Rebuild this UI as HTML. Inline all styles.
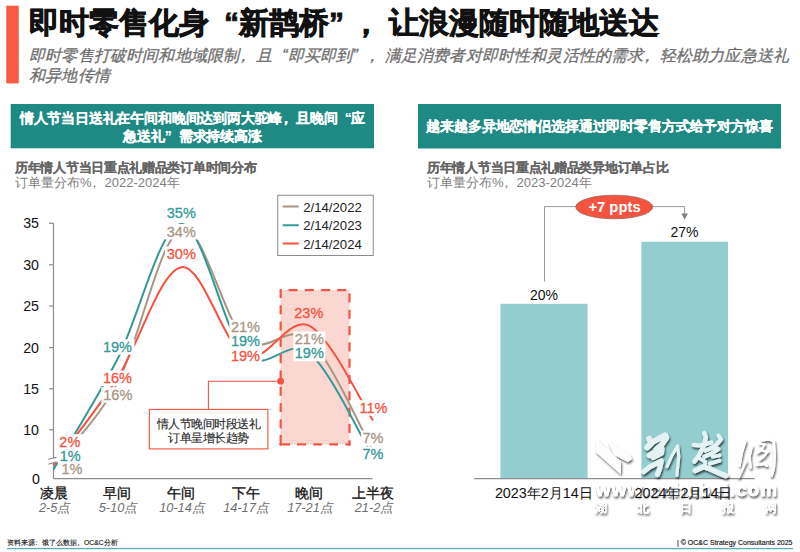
<!DOCTYPE html>
<html><head><meta charset="utf-8">
<style>
html,body{margin:0;padding:0;background:#fff;}
body{width:800px;height:552px;position:relative;overflow:hidden;font-family:"Liberation Sans",sans-serif;}
.t{position:absolute;white-space:nowrap;}
svg{position:absolute;left:0;top:0;}
.lq{display:inline-block;width:1em;text-align:right;}
.rq{display:inline-block;width:1em;text-align:left;}
.cm{position:relative;left:-0.27em;}
</style></head><body>
<svg width="800" height="552" viewBox="0 0 800 552">
  <!-- title accent bar -->
  <rect x="6.25" y="5.7" width="12.5" height="77.7" fill="#F95A44"/>
  <!-- header boxes -->
  <rect x="10.7" y="104" width="363.3" height="44.3" fill="#1F8A84"/>
  <rect x="418" y="104" width="363" height="44.5" fill="#1F8A84"/>

  <!-- left chart: dashed highlight box -->
  <rect x="280.6" y="290.1" width="68.9" height="154.3" fill="#FBD7D1"/>
  <g id="dash" fill="#F4533F"><rect x="288.60" y="289.00" width="9.00" height="2.20"/><rect x="304.90" y="289.00" width="9.00" height="2.20"/><rect x="321.20" y="289.00" width="9.00" height="2.20"/><rect x="337.20" y="289.00" width="9.00" height="2.20"/><rect x="348.40" y="293.50" width="2.20" height="9.00"/><rect x="348.40" y="309.80" width="2.20" height="9.00"/><rect x="348.40" y="326.10" width="2.20" height="9.00"/><rect x="348.40" y="342.40" width="2.20" height="9.00"/><rect x="348.40" y="358.70" width="2.20" height="9.00"/><rect x="348.40" y="375.00" width="2.20" height="9.00"/><rect x="348.40" y="391.30" width="2.20" height="9.00"/><rect x="348.40" y="407.60" width="2.20" height="9.00"/><rect x="348.40" y="423.90" width="2.20" height="9.00"/><rect x="348.40" y="440.20" width="2.20" height="5.30"/><rect x="345.40" y="443.30" width="5.20" height="2.20"/><rect x="329.30" y="443.30" width="8.70" height="2.20"/><rect x="313.30" y="443.30" width="8.45" height="2.20"/><rect x="297.00" y="443.30" width="9.00" height="2.20"/><rect x="279.55" y="443.30" width="10.45" height="2.20"/><rect x="279.55" y="289.00" width="2.20" height="9.00"/><rect x="279.55" y="305.30" width="2.20" height="9.00"/><rect x="279.55" y="321.60" width="2.20" height="9.00"/><rect x="279.55" y="337.90" width="2.20" height="9.00"/><rect x="279.55" y="354.20" width="2.20" height="9.00"/><rect x="279.55" y="370.50" width="2.20" height="9.00"/><rect x="279.55" y="386.80" width="2.20" height="9.00"/><rect x="279.55" y="403.10" width="2.20" height="9.00"/><rect x="279.55" y="419.40" width="2.20" height="9.00"/><rect x="279.55" y="434.90" width="2.20" height="10.60"/></g>

  <!-- axes -->
  <g stroke="#8C8C8C" stroke-width="1.2" fill="none">
    <line x1="53.5" y1="223.3" x2="53.5" y2="479"/>
    <line x1="53.5" y1="478.6" x2="372.5" y2="478.6"/>
    <line x1="49" y1="223.3" x2="53.5" y2="223.3"/>
    <line x1="49" y1="264.8" x2="53.5" y2="264.8"/>
    <line x1="49" y1="306.1" x2="53.5" y2="306.1"/>
    <line x1="49" y1="347.6" x2="53.5" y2="347.6"/>
    <line x1="49" y1="388.8" x2="53.5" y2="388.8"/>
    <line x1="49" y1="429.8" x2="53.5" y2="429.8"/>
  </g>

  <!-- curves -->
  <g fill="none" stroke-width="2" stroke-linecap="butt">
    <path stroke="#A99583" d="M53.5 466.5 C64.2 452.6 96.1 422.7 117.4 383.1 C138.7 343.6 160.0 236.4 181.3 229.2 C202.6 221.9 223.9 321.2 245.2 339.6 C266.5 358.0 287.8 321.0 309.1 339.5 C330.4 358.0 362.4 432.2 373.0 450.7"/>
    <path stroke="#359898" d="M53.5 469.5 C64.2 451.1 96.1 400.1 117.4 359.2 C138.7 318.3 160.0 224.9 181.3 224.1 C202.6 223.3 223.9 333.0 245.2 354.4 C266.5 375.8 287.8 335.5 309.1 352.7 C330.4 369.9 362.4 439.9 373.0 457.4"/>
    <path stroke="#F4533F" d="M53.5 465.2 C64.2 450.7 96.1 411.1 117.4 378.1 C138.7 345.1 160.0 270.9 181.3 267.2 C202.6 263.5 223.9 346.4 245.2 356.1 C266.5 365.8 287.8 314.9 309.1 325.6 C330.4 336.3 362.4 404.7 373.0 420.5"/>
  </g>

  <!-- axis break -->
  <g>
    <polygon points="47,459.5 58,457 58,462 47,464.5" fill="#fff"/>
    <line x1="48.3" y1="459.2" x2="56.6" y2="457.4" stroke="#8C8C8C" stroke-width="1.1"/>
    <line x1="48.3" y1="464.3" x2="56.6" y2="461.7" stroke="#8C8C8C" stroke-width="1.1"/>
  </g>

  <!-- label backgrounds -->
  <g fill="#fff">
    <rect x="57.3" y="434.1" width="25.2" height="15.5"/>
    <rect x="57.9" y="448.3" width="24.6" height="15.5"/>
    <rect x="60.1" y="461.3" width="24.0" height="15.5"/>
    <rect x="101.5" y="339.2" width="33.0" height="15.5"/>
    <rect x="101.1" y="370.5" width="33.4" height="15.5"/>
    <rect x="101.3" y="387.2" width="33.2" height="15.5"/>
    <rect x="165.0" y="204.9" width="32.9" height="15.5"/>
    <rect x="165.0" y="224.0" width="32.9" height="15.5"/>
    <rect x="165.0" y="246.4" width="32.9" height="15.5"/>
    <rect x="229.3" y="319.7" width="32.5" height="15.5"/>
    <rect x="229.3" y="333.2" width="32.5" height="15.5"/>
    <rect x="229.3" y="348.4" width="32.5" height="15.5"/>
    <rect x="293.3" y="331.5" width="32.1" height="15.5"/>
    <rect x="293.3" y="345.8" width="32.1" height="15.5"/>
    <rect x="357.4" y="400.2" width="32.8" height="15.5"/>
    <rect x="360.9" y="430.5" width="24.3" height="15.5"/>
    <rect x="360.9" y="446.5" width="24.3" height="15.5"/>
  </g>

  <!-- callout -->
  <g stroke="#F4533F" fill="none" stroke-width="1.1">
    <polyline points="208.4,409.4 208.4,381.2 280.6,381.2"/>
    <rect x="149.4" y="409.4" width="118.5" height="39.5" fill="#fff"/>
  </g>
  <circle cx="280.6" cy="381.2" r="3.4" fill="#F4533F"/>

  <!-- legend -->
  <rect x="277.75" y="195.25" width="95.5" height="60.25" fill="#fff" stroke="#8C8C8C" stroke-width="1"/>
  <g stroke-width="2">
    <line x1="282.7" y1="206.5" x2="298.75" y2="206.5" stroke="#A99583"/>
    <line x1="282.7" y1="225.25" x2="298.75" y2="225.25" stroke="#359898"/>
    <line x1="282.7" y1="243.5" x2="298.75" y2="243.5" stroke="#F4533F"/>
  </g>

  <!-- right chart -->
  <rect x="500.4" y="303.8" width="87.2" height="174.8" fill="#93CDD0"/>
  <rect x="641.4" y="241.7" width="86.6" height="236.7" fill="#93CDD0"/>
  <line x1="474.25" y1="478.6" x2="754.7" y2="478.6" stroke="#8C8C8C" stroke-width="1.2"/>
  <g stroke="#9A9A9A" stroke-width="1" fill="none">
    <polyline points="544.5,281.5 544.5,206.6 576,206.6"/>
    <polyline points="652.75,206.6 684.6,206.6 684.6,214"/>
  </g>
  <polygon points="681.4,213.6 687.9,213.6 684.6,219.8" fill="#7F7F7F"/>
  <ellipse cx="614.25" cy="207" rx="38.5" ry="11.8" fill="#F4533F" stroke="#9A6A60" stroke-width="0.8"/>

  <!-- bottom line -->
  <line x1="7" y1="548.6" x2="793" y2="548.6" stroke="#5AB0B4" stroke-width="1.3"/>
</svg>

<!-- texts -->
<div class="t" id="title" style="left:29px;top:2.5px;font-size:30px;font-weight:bold;color:#111;-webkit-text-stroke:0.8px #111;">即时零售化身<span class="lq">“</span>新鹊桥<span class="rq">”</span><span class="cm">，</span>让浪漫随时随地送达</div>
<div class="t" id="sub" style="left:29px;top:45.5px;font-size:16px;letter-spacing:0.18px;line-height:20px;font-style:italic;color:#6E6E6E;-webkit-text-stroke:0.3px #6E6E6E;white-space:normal;width:780px;">即时零售打破时间和地域限制<span class="cm">，</span>且<span class="lq">“</span>即买即到<span class="rq">”</span><span class="cm">，</span>满足消费者对即时性和灵活性的需求<span class="cm">，</span>轻松助力应急送礼<br>和异地传情</div>

<div class="t" id="hb1" style="left:10.5px;top:108.5px;width:364px;text-align:center;font-size:13.9px;letter-spacing:-0.18px;line-height:18.4px;font-weight:bold;color:#fff;-webkit-text-stroke:0.2px #fff;">情人节当日送礼在午间和晚间达到两大驼峰<span class="cm">，</span>且晚间<span class="lq">“</span>应<br>急送礼<span class="rq">”</span>需求持续高涨</div>
<div class="t" id="hb2" style="left:418px;top:116.8px;width:363px;text-align:center;font-size:13.9px;letter-spacing:-0.14px;line-height:18px;font-weight:bold;color:#fff;-webkit-text-stroke:0.2px #fff;">越来越多异地恋情侣选择通过即时零售方式给予对方惊喜</div>

<div class="t" id="ct1" style="left:15px;top:160px;font-size:13px;letter-spacing:-0.3px;line-height:16px;font-weight:bold;color:#646464;-webkit-text-stroke:0.1px #646464;">历年情人节当日重点礼赠品类订单时间分布</div>
<div class="t" id="cs1" style="left:15px;top:175px;font-size:13px;line-height:16px;color:#7F7F7F;">订单量分布%<span class="cm">，</span>2022-2024年</div>
<div class="t" id="ct2" style="left:427px;top:160px;font-size:13px;letter-spacing:-0.3px;line-height:16px;font-weight:bold;color:#646464;-webkit-text-stroke:0.1px #646464;">历年情人节当日重点礼赠品类异地订单占比</div>
<div class="t" id="cs2" style="left:427px;top:175px;font-size:13px;line-height:16px;color:#7F7F7F;">订单量分布%<span class="cm">，</span>2023-2024年</div>


<svg width="800" height="552" viewBox="0 0 800 552" style="font-family:'Liberation Sans',sans-serif">
  <defs>
    <filter id="ds" x="-20%" y="-20%" width="140%" height="140%">
      <feGaussianBlur in="SourceAlpha" stdDeviation="0.8" result="bl"/>
      <feOffset in="bl" dx="1.2" dy="1.5" result="off"/>
      <feComposite in="off" in2="SourceAlpha" operator="out" result="sh"/>
      <feComponentTransfer in="sh" result="s"><feFuncA type="linear" slope="0.7"/></feComponentTransfer>
      <feComponentTransfer in="SourceGraphic" result="g"><feFuncA type="linear" slope="0.75"/></feComponentTransfer>
      <feMerge><feMergeNode in="s"/><feMergeNode in="g"/></feMerge>
    </filter>
  </defs>
  <g filter="url(#ds)" fill="#FFFFFF">
    <polygon points="596,438.6 621,461.8 621,474.4 596,452.2" fill-opacity="0.9"/>
    <polygon points="608,441 630,455 632,459 628,462 614,455" fill-opacity="0.9"/>
  </g>
  <g filter="url(#ds)" fill="#FFFFFF">
    <g fill="none" stroke="#FFFFFF" stroke-linecap="round" stroke-linejoin="round">
    <polyline points="649.2,438.7 651.2,443.3 647.2,447.3" stroke-width="6.0"/>
    <polyline points="652.2,442.2 659.4,438.2 665.4,435.1 666.5,437.7 661.4,445.3 656.3,449.4" stroke-width="5.6"/>
    <polyline points="649.2,455.4 656.3,450.9 661.9,448.5 661.4,453.2 653.3,457.5" stroke-width="5.3"/>
    <polyline points="643.6,471.7 650.2,466.6 661.4,461.0 659.6,468.6 657.5,474.5" stroke-width="5.1"/>
    <polyline points="667.0,466.6 671.5,456.5 677.6,445.8 678.8,456.5 676.8,475.5" stroke-width="3.1"/>
    <polyline points="704.3,433.1 705.8,437.2 704.8,442.2 702.2,449.4 698.2,456.5 694.3,461.5" stroke-width="4.5"/>
    <polyline points="693.6,444.8 699.2,445.5 706.3,444.1 711.4,442.4" stroke-width="4.2"/>
    <polyline points="718.5,435.6 721.0,439.4 716.5,444.5 711.4,447.8" stroke-width="4.2"/>
    <polyline points="705.3,450.6 712.4,447.8 718.5,449.1 711.6,453.6 704.5,456.7" stroke-width="4.2"/>
    <polyline points="712.6,456.7 719.5,455.4" stroke-width="3.6"/>
    <polyline points="709.6,463.8 719.5,460.7" stroke-width="3.6"/>
    <polyline points="695.1,470.7 703.3,466.8 709.6,468.8 718.5,472.7 725.8,475.7" stroke-width="5.3"/>
    <polyline points="700.2,458.7 705.3,461.7 704.5,466.6" stroke-width="3.6"/>
    <polyline points="745.4,441.2 742.4,450.4 740.4,459.5 739.7,465.6" stroke-width="2.3"/>
    <polyline points="745.7,461.7 742.2,469.9 738.6,477.6" stroke-width="2.1"/>
    <polyline points="751.8,446.3 749.5,456.5 750.5,467.6" stroke-width="2.3"/>
    <polyline points="760.5,440.4 768.6,439.2 773.7,441.4 774.7,456.5 773.7,468.6 771.6,475.7" stroke-width="2.5"/>
    <polyline points="759.6,443.5 764.5,444.5 761.7,449.6 757.6,452.6" stroke-width="2.1"/>
    <polyline points="760.7,450.6 767.8,451.6 763.7,456.7 759.6,459.7" stroke-width="2.1"/>
    <polyline points="756.6,464.8 764.5,463.8 766.8,465.8" stroke-width="2.3"/>
  </g>
    <text x="596" y="496" font-size="18.5" font-weight="bold" textLength="181" lengthAdjust="spacing" stroke="#fff" stroke-width="0.5">www.cnhubei.com</text>
    <g font-size="11.5" font-weight="bold">
      <text x="595" y="512">湖</text><text x="637" y="512">北</text><text x="680" y="512">日</text><text x="722" y="512">报</text><text x="765" y="512">网</text>
    </g>
  </g>
</svg>
<svg width="800" height="552" viewBox="0 0 800 552" style="font-family:'Liberation Sans',sans-serif">
  <!-- y axis labels -->
  <g font-size="14.2" fill="#111" text-anchor="end">
    <text x="39" y="228.4">35</text>
    <text x="39" y="269.9">30</text>
    <text x="39" y="311.2">25</text>
    <text x="39" y="352.7">20</text>
    <text x="39" y="393.9">15</text>
    <text x="39" y="434.9">10</text>
    <text x="40" y="484">0</text>
  </g>
  <!-- data labels -->
  <g font-size="14.5" text-anchor="middle" style="paint-order:stroke" stroke-width="0.3">
    <text x="69.85" y="446.6" fill="#F4533F" stroke="#F4533F">2%</text>
    <text x="70.15" y="460.8" fill="#359898" stroke="#359898">1%</text>
    <text x="72" y="473.8" fill="#A99583" stroke="#A99583">1%</text>
    <text x="117.5" y="351.7" fill="#359898" stroke="#359898">19%</text>
    <text x="117.5" y="382.5" fill="#F4533F" stroke="#F4533F">16%</text>
    <text x="117.8" y="399.7" fill="#A99583" stroke="#A99583">16%</text>
    <text x="181.3" y="217.6" fill="#359898" stroke="#359898">35%</text>
    <text x="181.3" y="236.7" fill="#A99583" stroke="#A99583">34%</text>
    <text x="181.3" y="259.2" fill="#F4533F" stroke="#F4533F">30%</text>
    <text x="245.5" y="332.2" fill="#A99583" stroke="#A99583">21%</text>
    <text x="245.5" y="345.7" fill="#359898" stroke="#359898">19%</text>
    <text x="245.5" y="360.9" fill="#F4533F" stroke="#F4533F">19%</text>
    <text x="308.8" y="318" fill="#F4533F" stroke="#F4533F">23%</text>
    <text x="309.3" y="344" fill="#A99583" stroke="#A99583">21%</text>
    <text x="309.3" y="358.3" fill="#359898" stroke="#359898">19%</text>
    <text x="373.5" y="413" fill="#F4533F" stroke="#F4533F">11%</text>
    <text x="373" y="443" fill="#A99583" stroke="#A99583">7%</text>
    <text x="373" y="459" fill="#359898" stroke="#359898">7%</text>
  </g>
  <!-- legend text -->
  <g font-size="13.2" fill="#222">
    <text x="303.2" y="211.75">2/14/2022</text>
    <text x="303.2" y="230.25">2/14/2023</text>
    <text x="303.2" y="248.75">2/14/2024</text>
  </g>
  <!-- category labels -->
  <g font-size="14" fill="#111" text-anchor="middle" stroke="#111" stroke-width="0.3">
    <text x="53.5" y="497.6">凌晨</text>
    <text x="117.3" y="497.6">早间</text>
    <text x="181.2" y="497.6">午间</text>
    <text x="245.6" y="497.6">下午</text>
    <text x="309.2" y="497.6">晚间</text>
    <text x="373.1" y="497.6">上半夜</text>
  </g>
  <g font-size="12.8" fill="#6E6E6E" font-style="italic" text-anchor="middle">
    <text x="54.7" y="512.3">2-5点</text>
    <text x="118" y="512.3">5-10点</text>
    <text x="182" y="512.3">10-14点</text>
    <text x="246" y="512.3">14-17点</text>
    <text x="310" y="512.3">17-21点</text>
    <text x="374" y="512.3">21-2点</text>
  </g>
  <!-- callout text -->
  <g font-size="12" fill="#2A2A2A" text-anchor="middle" letter-spacing="-0.5" stroke="#2A2A2A" stroke-width="0.15">
    <text x="208.7" y="427.5">情人节晚间时段送礼</text>
    <text x="208.7" y="441.5">订单呈增长趋势</text>
  </g>
  <!-- right chart text -->
  <g font-size="14" fill="#111" text-anchor="middle">
    <text x="544" y="299.5">20%</text>
    <text x="684.5" y="237.4">27%</text>
    <text x="543.8" y="497.6" font-size="14.35">2023年2月14日</text>
    <text x="683.5" y="497.6" font-size="14.35">2024年2月14日</text>
  </g>
  <text x="614.5" y="211.9" font-size="14.8" font-weight="bold" fill="#fff" text-anchor="middle">+7 ppts</text>
  <!-- footer -->
  <text x="7" y="545" font-size="6.8" fill="#111" stroke="#111" stroke-width="0.12">资料来源<tspan dx="-2">：</tspan><tspan dx="2">饿了么数据</tspan><tspan dx="-2">，</tspan><tspan dx="2">OC&amp;C分析</tspan></text>
  <text x="792.5" y="545" font-size="7" fill="#111" stroke="#111" stroke-width="0.15" text-anchor="end">| © OC&amp;C Strategy Consultants 2025</text>
</svg>


</body></html>
